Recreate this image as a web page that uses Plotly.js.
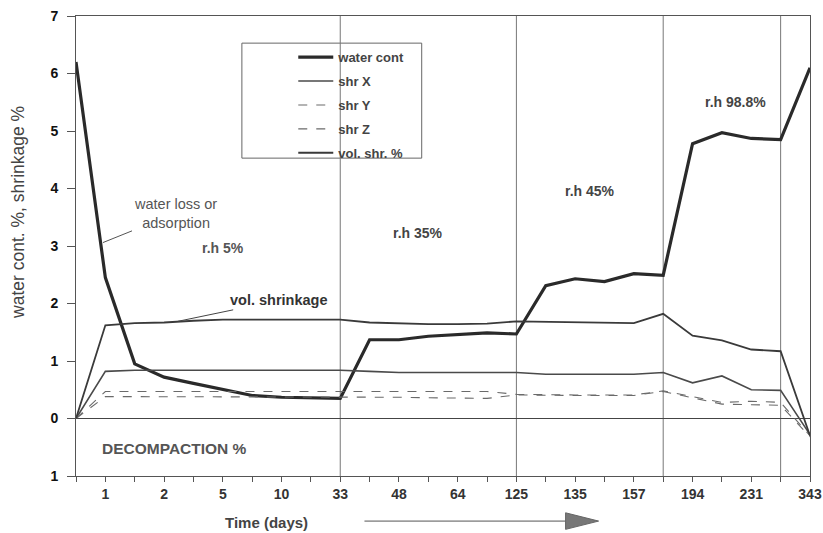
<!DOCTYPE html>
<html>
<head>
<meta charset="utf-8">
<script src="https://cdn.plot.ly/plotly-3.0.1.min.js"></script>
<style>
  html, body { margin: 0; padding: 0; background: #fff; }
  #chart { width: 823px; height: 533px; }
</style>
</head>
<body>
<div id="chart"></div>
<script>
// ---- data ----
const timeLabels = ['', '1', '', '2', '', '5', '', '10', '', '33', '', '48', '', '64', '',
                    '125', '', '135', '', '157', '', '194', '', '231', '', '343'];
const waterCont = [6.2, 2.45, 0.95, 0.72, 0.61, 0.50, 0.40, 0.37, 0.36, 0.35, 1.37, 1.37, 1.43, 1.46, 1.49,
                   1.47, 2.31, 2.43, 2.38, 2.52, 2.49, 4.78, 4.97, 4.87, 4.85, 6.1];
const shrX = [0, 0.82, 0.84, 0.84, 0.85, 0.85, 0.85, 0.85, 0.84, 0.84, 0.82, 0.80, 0.80, 0.80, 0.80,
              0.80, 0.77, 0.77, 0.77, 0.77, 0.80, 0.62, 0.74, 0.50, 0.49, -0.28];
const shrY = [0, 0.47, 0.47, 0.47, 0.47, 0.47, 0.47, 0.47, 0.47, 0.47, 0.47, 0.47, 0.47, 0.47, 0.47,
              0.42, 0.41, 0.41, 0.41, 0.41, 0.48, 0.38, 0.28, 0.30, 0.28, -0.30];
const shrZ = [0, 0.38, 0.38, 0.38, 0.38, 0.38, 0.38, 0.38, 0.38, 0.37, 0.37, 0.37, 0.36, 0.36, 0.35,
              0.41, 0.40, 0.40, 0.40, 0.40, 0.47, 0.36, 0.25, 0.24, 0.23, -0.32];
const volShr = [0, 1.62, 1.66, 1.67, 1.70, 1.72, 1.72, 1.72, 1.72, 1.72, 1.67, 1.65, 1.64, 1.64, 1.65,
                1.69, 1.68, 1.67, 1.66, 1.66, 1.82, 1.44, 1.36, 1.20, 1.17, -0.30];
const seriesNames = ['water cont', 'shr X', 'shr Y', 'shr Z', 'vol. shr. %'];
const yTickVals = [-1, 0, 1, 2, 3, 4, 5, 6, 7];
const yTickText = ['1', '0', '1', '2', '3', '4', '5', '6', '7'];
const phaseBoundaries = [9, 15, 20, 24];   // indices of the r.h change lines

// ---- build ----
const steps = timeLabels.map((_, i) => i);
const FONT = 'Liberation Sans, Arial, sans-serif';

const styles = [
  {color: '#2a2a2a', width: 3.2, dash: 'solid'},
  {color: '#4a4a4a', width: 1.6, dash: 'solid'},
  {color: '#6a6a6a', width: 1.1, dash: 'dash'},
  {color: '#6a6a6a', width: 1.1, dash: 'dash'},
  {color: '#3a3a3a', width: 1.8, dash: 'solid'}
];
const values = [waterCont, shrX, shrY, shrZ, volShr];

const traces = values.map((v, k) => ({
  type: 'scatter', mode: 'lines', x: steps, y: v,
  name: seriesNames[k], legendgroup: seriesNames[k],
  line: {color: styles[k].color, width: styles[k].width, dash: styles[k].dash},
  hoverinfo: 'skip'
}));

const shapes = phaseBoundaries.map(b => ({
  type: 'line', xref: 'x', yref: 'y', x0: b, x1: b, y0: -1, y1: 7,
  line: {color: '#777', width: 1}, layer: 'below'
}));
// legend frame
shapes.push({type: 'rect', xref: 'paper', yref: 'paper', x0: 0.226, x1: 0.471, y0: 0.691, y1: 0.941,
  line: {color: '#666', width: 1}, fillcolor: '#fff', layer: 'below'});
// time arrow under the axis
shapes.push({type: 'line', xref: 'paper', yref: 'paper', x0: 0.393, x1: 0.67, y0: -0.098, y1: -0.098,
  line: {color: '#555', width: 1}});
shapes.push({type: 'path', xref: 'paper', yref: 'paper',
  path: 'M 0.667 -0.080 L 0.712 -0.098 L 0.667 -0.116 Z',
  fillcolor: '#777', line: {color: '#666', width: 1}});

const annFont = (s, c, bold) => ({family: FONT, size: s, color: c, weight: bold ? 'bold' : 'normal'});

const annotations = [
  {x: 0.92, y: 3.06, xref: 'x', yref: 'y', text: 'water loss or<br>adsorption', showarrow: true,
   ax: 72, ay: -29, arrowhead: 0, arrowwidth: 1, arrowcolor: '#555', font: annFont(14.5, '#555', false)},
  {x: 3.47, y: 1.69, xref: 'x', yref: 'y', text: 'vol. shrinkage', showarrow: true,
   ax: 101, ay: -21, arrowhead: 0, arrowwidth: 1, arrowcolor: '#444', font: annFont(14.5, '#333', true)},
  {x: 5.0, y: 2.96, xref: 'x', yref: 'y', text: 'r.h 5%', showarrow: false, font: annFont(14, '#555', true)},
  {x: 11.65, y: 3.23, xref: 'x', yref: 'y', text: 'r.h 35%', showarrow: false, font: annFont(14, '#444', true)},
  {x: 17.5, y: 3.95, xref: 'x', yref: 'y', text: 'r.h 45%', showarrow: false, font: annFont(14, '#444', true)},
  {x: 22.45, y: 5.51, xref: 'x', yref: 'y', text: 'r.h 98.8%', showarrow: false, font: annFont(14, '#444', true)},
  {x: 3.37, y: -0.52, xref: 'x', yref: 'y', text: 'DECOMPACTION %', showarrow: false, font: annFont(15.5, '#555', true)},
  {x: 0.259, y: -0.102, xref: 'paper', yref: 'paper', xanchor: 'center', yanchor: 'middle', text: 'Time (days)',
   showarrow: false, font: annFont(15, '#444', true)},
  {x: -0.079, y: 0.572, xref: 'paper', yref: 'paper', xanchor: 'center', yanchor: 'middle', textangle: -90,
   text: 'water cont. %, shrinkage %', showarrow: false, font: annFont(17.5, '#444', false)}
];

const layout = {
  width: 823, height: 533,
  margin: {l: 76, r: 13, t: 16, b: 57},
  paper_bgcolor: '#fff', plot_bgcolor: '#fff',
  showlegend: true,
  legend: {x: 0.296, y: 0.943, xanchor: 'left', yanchor: 'top', bgcolor: 'rgba(0,0,0,0)',
           borderwidth: 0, tracegroupgap: 4, itemwidth: 35,
           font: {family: FONT, size: 13, color: '#444', weight: 'bold'}},
  xaxis: {
    range: [0, 25], tickmode: 'array', tickvals: steps, ticktext: timeLabels,
    ticks: 'outside', ticklen: 5, tickcolor: '#555', showgrid: false, zeroline: false,
    showline: true, linecolor: '#555', linewidth: 1, mirror: true,
    tickfont: {family: FONT, size: 14, color: '#333', weight: 'bold'}
  },
  yaxis: {
    range: [-1, 7], tickmode: 'array', tickvals: yTickVals, ticktext: yTickText,
    ticks: 'outside', ticklen: 8, tickcolor: '#555', ticklabelstandoff: 6,
    showgrid: false, zeroline: true, zerolinecolor: '#444', zerolinewidth: 1,
    showline: true, linecolor: '#555', linewidth: 1, mirror: true,
    tickfont: {family: FONT, size: 14, color: '#111', weight: 'bold'}
  },
  shapes: shapes,
  annotations: annotations
};

Plotly.newPlot('chart', traces, layout, {displayModeBar: false, staticPlot: true});
</script>
</body>
</html>
